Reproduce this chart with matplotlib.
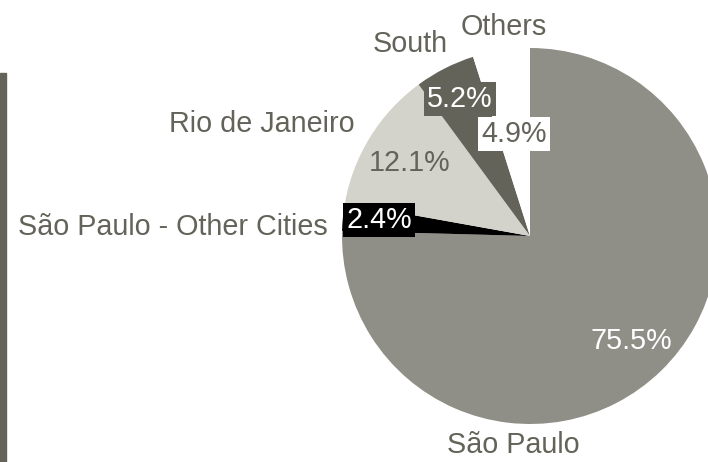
import matplotlib.pyplot as plt
from matplotlib.patches import Rectangle

plt.rcParams['font.family'] = ['Liberation Sans', 'DejaVu Sans']

regions = ["São Paulo", "São Paulo - Other Cities", "Rio de Janeiro", "South", "Others"]
shares = [75.5, 2.4, 12.1, 5.2, 4.9]
colors = ["#8f8f87", "#000000", "#d3d3cb", "#64635a", "#ffffff"]
pct_colors = ["white", "white", "#64635a", "white", "#64635a"]

grey = "#64635a"
W, H = 708, 462
cx, cy, R = 530, 236, 188


def px(x, y):
    # pixel position -> data coords (pie radius = 1)
    return (x - cx) / R, (cy - y) / R


fig = plt.figure(figsize=(W / 100, H / 100), dpi=100)
ax = fig.add_axes([0, 0, 1, 1])

wedges, _ = ax.pie(shares, colors=colors, startangle=90, counterclock=False,
                   wedgeprops=dict(linewidth=0))
# pie resets the limits, so set them afterwards
ax.set_aspect('auto')
ax.set_xlim(-cx / R, (W - cx) / R)
ax.set_ylim((cy - H) / R, cy / R)
ax.axis('off')

# outer labels
label_pos = [(513, 445, 'center'), (328, 227, 'right'), (355, 124, 'right'),
             (410, 44, 'center'), (504, 27, 'center')]
for name, (x, y, ha) in zip(regions, label_pos):
    ax.text(*px(x, y), name, ha=ha, va='center', fontsize=20.7, color=grey)

# percentage labels
pct_pos = [(631, 341), (379, 220), (410, 163), (460, 99), (514, 134)]
for i, (val, (x, y)) in enumerate(zip(shares, pct_pos)):
    box = None
    if i != 0 and i != 2:
        box = dict(boxstyle='square,pad=0.12', fc=colors[i], ec='none')
    ax.text(*px(x, y), f"{val}%", ha='center', va='center', fontsize=20.7,
            color=pct_colors[i], bbox=box)

# side bar on the left
fig.patches.append(Rectangle((0, 0), 6 / W, (H - 73) / H, transform=fig.transFigure,
                             color=grey, zorder=0))

plt.savefig("out.png", dpi=100)
